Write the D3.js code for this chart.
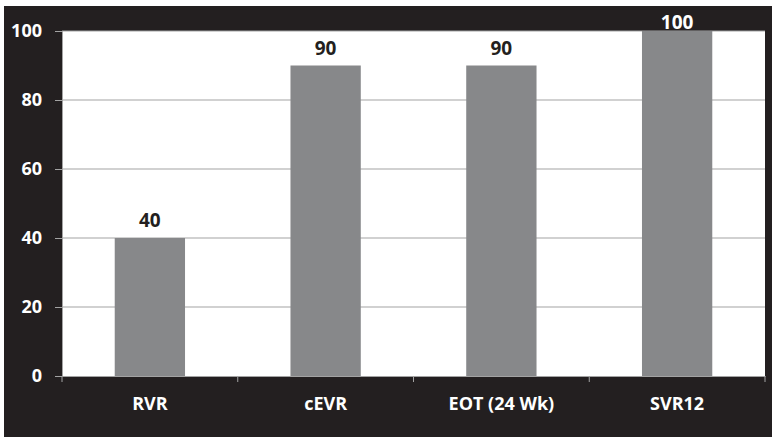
<!DOCTYPE html>
<html>
<head>
<meta charset="utf-8">
<script src="https://cdn.jsdelivr.net/npm/d3@7"></script>
<style>
html,body{margin:0;padding:0;background:#fff;}
svg{display:block;}
text{font-family:"Open Sans","Liberation Sans",sans-serif;font-weight:bold;}
</style>
</head>
<body>
<svg id="chart" width="772" height="437"></svg>
<script>
const categories = ["RVR", "cEVR", "EOT (24 Wk)", "SVR12"];
const values = [40, 90, 90, 100];
const yTicks = [0, 20, 40, 60, 80, 100];

const svg = d3.select("#chart");
const W = 772, H = 437;
const plot = {left: 62, top: 31, right: 765, bottom: 376};
const FS = 18;

// black background
svg.append("rect").attr("x", 4).attr("y", 6).attr("width", W - 4).attr("height", H - 6).attr("fill", "#231f20");
// white plot area
svg.append("rect").attr("x", plot.left).attr("y", plot.top)
  .attr("width", plot.right - plot.left).attr("height", plot.bottom - plot.top).attr("fill", "#fff");

const x = d3.scaleBand().domain(categories).range([plot.left, plot.right]).padding(0);
const y = d3.scaleLinear().domain([0, 100]).range([plot.bottom, plot.top]);

// gridlines
svg.append("g").selectAll("line").data(yTicks.filter(t => t > 0)).join("line")
  .attr("x1", plot.left).attr("x2", plot.right)
  .attr("y1", d => y(d)).attr("y2", d => y(d))
  .attr("stroke", "#a3a3a3").attr("stroke-width", 1);

// bars
const step = x.step();
svg.append("g").selectAll("rect").data(values).join("rect")
  .attr("x", (d, i) => x(categories[i]) + step * 0.3)
  .attr("width", step * 0.4)
  .attr("y", d => y(d))
  .attr("height", d => y(0) - y(d))
  .attr("fill", "#87888a");

// value labels
const labelY = d => Math.max(y(d) - 11, plot.top - 2);
svg.append("g").selectAll("text").data(values).join("text")
  .attr("x", (d, i) => x(categories[i]) + step / 2)
  .attr("y", d => labelY(d))
  .attr("text-anchor", "middle")
  .attr("font-size", 19)
  .attr("fill", d => labelY(d) < plot.top ? "#fff" : "#231f20")
  .text(d => d);

// y axis
const yAxis = d3.axisLeft(y).tickValues(yTicks).tickSize(7).tickPadding(13);
const gy = svg.append("g").attr("transform", `translate(${plot.left},0)`).call(yAxis);
gy.select(".domain").attr("stroke", "#a3a3a3");
gy.selectAll(".tick line").attr("stroke", "#a3a3a3");
gy.selectAll(".tick text").attr("fill", "#fff").attr("font-size", FS)
  .attr("font-family", '"Open Sans","Liberation Sans",sans-serif').attr("font-weight", "bold");

// x axis
const xAxis = d3.axisBottom(x).tickSize(0).tickPadding(21);
const gx = svg.append("g").attr("transform", `translate(0,${plot.bottom})`).call(xAxis);
gx.select(".domain").attr("stroke", "#a3a3a3");
gx.selectAll(".tick text").attr("fill", "#fff").attr("font-size", FS)
  .attr("font-family", '"Open Sans","Liberation Sans",sans-serif').attr("font-weight", "bold");
// category boundary ticks
const bounds = categories.map(c => x(c)).concat([plot.right]);
gx.append("g").selectAll("line").data(bounds).join("line")
  .attr("x1", d => d).attr("x2", d => d).attr("y1", 0).attr("y2", 6)
  .attr("stroke", "#a3a3a3");
</script>
</body>
</html>
